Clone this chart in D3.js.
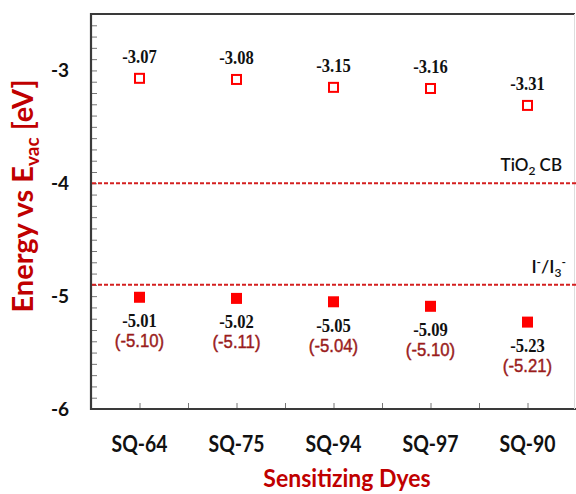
<!DOCTYPE html>
<html>
<head>
<meta charset="utf-8">
<script src="https://cdn.jsdelivr.net/npm/d3@7"></script>
<style>
  body { margin: 0; background: #fff; }
  svg { display: block; }
</style>
</head>
<body>
<svg id="chart"></svg>
<script>
// chart data
const dyes = ['SQ-64', 'SQ-75', 'SQ-94', 'SQ-97', 'SQ-90'];
const lumo = [-3.07, -3.08, -3.15, -3.16, -3.31];
const homo = [-5.01, -5.02, -5.05, -5.09, -5.23];
const homoCalc = [-5.10, -5.11, -5.04, -5.10, -5.21];
const refValues = [-4.0, -4.9];
const yTickValues = [-6, -5, -4, -3];

const width = 576, height = 494;
const plot = { left: 91, right: 576, top: 14, bottom: 409 };

const svg = d3.select('#chart')
  .attr('width', width)
  .attr('height', height);

// scales
const x = d3.scaleLinear().domain([0.5, 5.5]).range([plot.left, plot.right]);
const y = d3.scaleLinear().domain([-6, -2.5]).range([plot.bottom, plot.top]);

const red = '#ff0000';
const dashRed = '#d42020';
const titleRed = '#c00000';
const darkRed = '#9a1c1c';

// the source figure was squeezed sideways, narrow the text a bit
function squeeze(sel, f) {
  sel.each(function () {
    const w = this.getComputedTextLength();
    d3.select(this).attr('textLength', w * f).attr('lengthAdjust', 'spacingAndGlyphs');
  });
}

// minor ticks on y axis (inward)
const yAxis = d3.axisRight(y)
  .tickValues(d3.range(-60, -24).map(v => v / 10))
  .tickSize(6)
  .tickFormat('');
svg.append('g')
  .attr('transform', `translate(${plot.left},0)`)
  .call(yAxis)
  .call(g => g.select('.domain').remove())
  .call(g => g.selectAll('line').attr('stroke', '#777').attr('stroke-width', 1));

// minor ticks on x axis (inward)
const xAxis = d3.axisTop(x)
  .tickValues(d3.range(1, 11).map(v => v / 2))
  .tickSize(6)
  .tickFormat('');
svg.append('g')
  .attr('transform', `translate(0,${plot.bottom})`)
  .call(xAxis)
  .call(g => g.select('.domain').remove())
  .call(g => g.selectAll('line').attr('stroke', '#777').attr('stroke-width', 1));

// frame
svg.append('path')
  .attr('d', `M${plot.right - 1},${plot.top} H${plot.left} V${plot.bottom} H${plot.right}`)
  .attr('fill', 'none')
  .attr('stroke', '#3a3a3a')
  .attr('stroke-width', 2.2);
svg.append('line')
  .attr('x1', plot.right - 1.5).attr('x2', plot.right - 1.5)
  .attr('y1', plot.top).attr('y2', plot.bottom)
  .attr('stroke', '#ddd').attr('stroke-width', 1);

// y tick labels
svg.append('g').selectAll('text')
  .data(yTickValues)
  .join('text')
  .attr('x', 69)
  .attr('y', d => y(d) + 6.5)
  .attr('text-anchor', 'end')
  .attr('font-family', 'Lato, sans-serif')
  .attr('font-weight', 'bold')
  .attr('font-size', 19)
  .attr('fill', '#111')
  .text(d => d);

// x category labels
svg.append('g').selectAll('text')
  .data(dyes)
  .join('text')
  .attr('x', (d, i) => x(i + 1))
  .attr('y', 452)
  .attr('text-anchor', 'middle')
  .attr('font-family', 'Lato, sans-serif')
  .attr('font-weight', 'bold')
  .attr('font-size', 22)
  .attr('fill', '#111')
  .text(d => d)
  .call(squeeze, 0.88);

// axis titles
svg.append('text')
  .attr('x', 347)
  .attr('y', 487)
  .attr('text-anchor', 'middle')
  .attr('font-family', 'Lato, sans-serif')
  .attr('font-weight', 'bold')
  .attr('font-size', 25)
  .attr('fill', titleRed)
  .text('Sensitizing Dyes')
  .call(squeeze, 0.92);

const yTitle = svg.append('text')
  .attr('transform', 'translate(33,196) rotate(-90)')
  .attr('text-anchor', 'middle')
  .attr('font-family', 'Lato, sans-serif')
  .attr('font-weight', 'bold')
  .attr('font-size', 29)
  .attr('fill', titleRed);
yTitle.append('tspan').text('Energy vs E');
yTitle.append('tspan').attr('font-size', 19).attr('dy', 6).text('vac');
yTitle.append('tspan').attr('dy', -6).text(' [eV]');

// reference levels
svg.append('g').selectAll('line')
  .data(refValues)
  .join('line')
  .attr('x1', plot.left + 1)
  .attr('x2', plot.right)
  .attr('y1', d => y(d))
  .attr('y2', d => y(d))
  .attr('stroke', dashRed)
  .attr('stroke-width', 2)
  .attr('stroke-dasharray', '4,2');

const tio2 = svg.append('text')
  .attr('x', 562)
  .attr('y', y(refValues[0]) - 12)
  .attr('text-anchor', 'end')
  .attr('font-family', 'Lato, sans-serif')
  .attr('font-weight', 600)
  .attr('font-size', 17)
  .attr('fill', '#111');
tio2.append('tspan').text('TiO');
tio2.append('tspan').attr('font-size', 12).attr('dy', 4).text('2');
tio2.append('tspan').attr('dy', -4).text(' CB');

const iodide = svg.append('text')
  .attr('x', 566)
  .attr('y', y(refValues[1]) - 12)
  .attr('text-anchor', 'end')
  .attr('font-family', 'Lato, sans-serif')
  .attr('font-weight', 600)
  .attr('font-size', 18)
  .attr('fill', '#111');
iodide.append('tspan').text('I');
iodide.append('tspan').attr('font-size', 12).attr('dy', -7).text('-');
iodide.append('tspan').attr('dy', 7).text('/I');
iodide.append('tspan').attr('font-size', 12).attr('dy', 4).text('3');
iodide.append('tspan').attr('font-size', 12).attr('dy', -11).text('-');

// LUMO: open squares with labels
const sq = 9;
svg.append('g').selectAll('rect')
  .data(lumo)
  .join('rect')
  .attr('x', (d, i) => x(i + 1) - sq / 2)
  .attr('y', d => y(d) - sq / 2)
  .attr('width', sq)
  .attr('height', sq)
  .attr('fill', '#fff')
  .attr('stroke', red)
  .attr('stroke-width', 2);

svg.append('g').selectAll('text')
  .data(lumo)
  .join('text')
  .attr('x', (d, i) => x(i + 1))
  .attr('y', d => y(d) - 15)
  .attr('text-anchor', 'middle')
  .attr('font-family', 'Liberation Serif, serif')
  .attr('font-weight', 'bold')
  .attr('font-size', 18)
  .attr('fill', '#111')
  .text(d => d.toFixed(2))
  .call(squeeze, 0.92);

// HOMO: filled squares with labels
const fsq = 11;
svg.append('g').selectAll('rect')
  .data(homo)
  .join('rect')
  .attr('x', (d, i) => x(i + 1) - fsq / 2)
  .attr('y', d => y(d) - fsq / 2)
  .attr('width', fsq)
  .attr('height', fsq)
  .attr('fill', red);

svg.append('g').selectAll('text')
  .data(homo)
  .join('text')
  .attr('x', (d, i) => x(i + 1))
  .attr('y', d => y(d) + 30)
  .attr('text-anchor', 'middle')
  .attr('font-family', 'Liberation Serif, serif')
  .attr('font-weight', 'bold')
  .attr('font-size', 18)
  .attr('fill', '#111')
  .text(d => d.toFixed(2))
  .call(squeeze, 0.92);

svg.append('g').selectAll('text')
  .data(homoCalc)
  .join('text')
  .attr('x', (d, i) => x(i + 1))
  .attr('y', (d, i) => y(homo[i]) + 50)
  .attr('text-anchor', 'middle')
  .attr('font-family', 'Liberation Sans, Arial, sans-serif')
  .attr('font-size', 19)
  .attr('fill', darkRed)
  .attr('stroke', darkRed)
  .attr('stroke-width', 0.45)
  .text(d => `(${d.toFixed(2)})`)
  .call(squeeze, 0.88);
</script>
</body>
</html>
